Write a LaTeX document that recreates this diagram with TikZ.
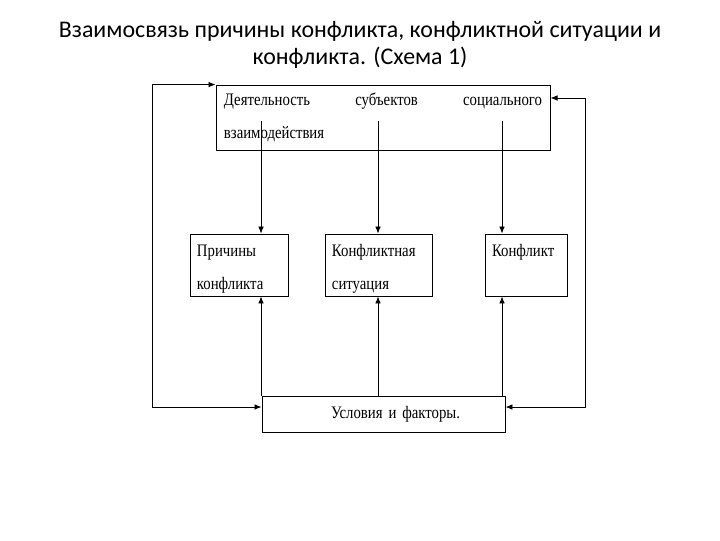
\documentclass[tikz,border=0pt]{standalone}
\usepackage{fontspec}
\setmainfont[FakeStretch=0.84]{Liberation Serif}
\newfontfamily\titlefont{Carlito}
\usetikzlibrary{arrows.meta, positioning}

\begin{document}
\begin{tikzpicture}[
    x=0.025cm, y=-0.025cm,
    box/.style={draw, line width=0.6pt, inner xsep=0.175cm, inner ysep=0pt,
                align=left, font=\fontsize{12.5}{14}\selectfont},
    arr/.style={line width=0.6pt, -{Latex[length=5pt, width=4pt]}},
    backline/.style={line width=0.6pt, {Latex[length=5pt, width=4pt]}-{Latex[length=5pt, width=4pt]}}
]
    \useasboundingbox (0,0) rectangle (720,540);
    \node[font=\titlefont\fontsize{17}{19.5}\selectfont, align=center] (title) at (360,45) {
        Взаимосвязь причины конфликта, конфликтной ситуации и\\
        конфликта. (Схема 1)
    };
    \node[box, text width=7.95cm, inner xsep=0.2cm, minimum height=1.625cm] (activity) at (383,117.5) {
        Деятельность\hfill субъектов\hfill социального\\[10pt]
        взаимодействия
    };
    \node[box, text width=2.1cm, minimum height=1.55cm] (cause) at (239,265) {
        \rule{0pt}{14pt}Причины\\[9pt]конфликта
    };
    \node[box, text width=2.325cm, minimum height=1.55cm] (situation) at (378.5,265) {
        \rule{0pt}{14pt}Конфликтная\\[9pt]ситуация
    };
    \node[box, text width=1.7cm, minimum height=1.55cm] (conflict) at (526,265) {
        \rule{0pt}{14pt}Конфликт\\[9pt]\phantom{ф}
    };
    \node[box, align=center, text width=5.725cm, minimum height=0.9cm] (factors) at (383.5,414) {
        \hspace*{0.6cm}Условия и факторы.
    };
    % arrows down from activity and up from factors
    \coordinate (c1) at (261,121);
    \coordinate (c2) at (378,121);
    \coordinate (c3) at (502,121);
    \foreach \c/\n in {c1/cause, c2/situation, c3/conflict} {
        \draw[arr] (\c) -- (\c |- \n.north);
        \draw[arr] (\c |- factors.north) -- (\c |- \n.south);
    }
    % outer feedback lines
    \draw[backline] ([yshift=0.175cm]factors.west) -- ++(-109,0) |- (activity.north west);
    \draw[backline] ([yshift=0.175cm]factors.east) -- ++(80,0) |- ([yshift=0.4875cm]activity.east);
\end{tikzpicture}
\end{document}
